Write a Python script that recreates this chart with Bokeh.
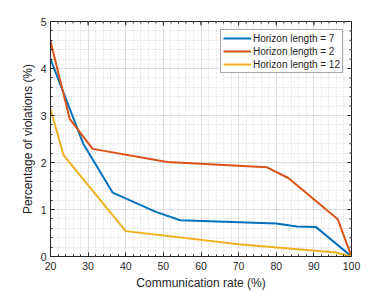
import math
from bokeh.plotting import figure
from bokeh.models import Range1d, FixedTicker
from bokeh.embed import file_html
from bokeh.resources import INLINE

# Data
rate_h7 = [20, 28.7, 36.5, 48, 54.5, 80, 85.5, 90.5, 100]
viol_h7 = [4.2, 2.4, 1.36, 0.95, 0.77, 0.70, 0.64, 0.63, 0.0]

rate_h2 = [20, 25.1, 31.2, 51, 77.4, 83.2, 96.3, 100]
viol_h2 = [4.58, 2.93, 2.29, 2.01, 1.90, 1.67, 0.80, 0.0]

rate_h12 = [20, 23.5, 40, 70, 95.8, 100]
viol_h12 = [3.14, 2.15, 0.54, 0.26, 0.085, 0.0]

labels = ["Horizon length = 7", "Horizon length = 2", "Horizon length = 12"]
colors = ["#0072BD", "#D95319", "#EDB120"]

x_ticks = [20, 30, 40, 50, 60, 70, 80, 90, 100]
y_ticks = [0, 1, 2, 3, 4, 5]
x_minor = [20 + 2 * i for i in range(41)]
y_minor = [round(0.2 * i, 1) for i in range(26)]

FONT = "Liberation Sans"
AX = "#262626"

p = figure(width=388, height=291, frame_width=301, frame_height=235,
           output_backend="svg", toolbar_location=None,
           x_range=Range1d(20, 100), y_range=Range1d(0, 5),
           min_border_left=50, min_border_right=37, min_border_top=21, min_border_bottom=35)
p.outline_line_color = AX
p.outline_line_width = 1

xt = FixedTicker(ticks=x_ticks, minor_ticks=x_minor)
yt = FixedTicker(ticks=y_ticks, minor_ticks=y_minor)

for ax, t in ((p.xaxis[0], xt), (p.yaxis[0], yt)):
    ax.ticker = t
    ax.axis_line_color = AX
    ax.major_tick_line_color = AX
    ax.minor_tick_line_color = AX
    ax.major_tick_in = 4
    ax.major_tick_out = 0
    ax.minor_tick_in = 2
    ax.minor_tick_out = 0
    ax.major_label_text_font = FONT
    ax.major_label_text_font_size = "10.5px"
    ax.major_label_text_color = AX
    ax.axis_label_text_font = FONT
    ax.axis_label_text_font_size = "12px"
    ax.axis_label_text_font_style = "normal"
    ax.axis_label_text_color = AX

p.xaxis.axis_label = "Communication rate (%)"
p.yaxis.axis_label = "Percentage of violations (%)"
p.xaxis.major_label_standoff = 5
p.xaxis.axis_label_standoff = 3
p.yaxis.major_label_standoff = 4
p.yaxis.axis_label_standoff = 3

for g in (p.xgrid[0], p.ygrid[0]):
    g.grid_line_color = "#dedede"
    g.grid_line_width = 1
    g.minor_grid_line_color = "#d4d4d4"
    g.minor_grid_line_dash = "1 2"
    g.minor_grid_line_width = 1

# box ticks on top and right edges (inward), like a boxed axes
p.ray(x=x_ticks, y=[5] * len(x_ticks), length=4, angle=-math.pi / 2,
      length_units="screen", line_color=AX, line_width=1)
p.ray(x=x_minor, y=[5] * len(x_minor), length=2, angle=-math.pi / 2,
      length_units="screen", line_color=AX, line_width=1)
p.ray(x=[100] * len(y_ticks), y=y_ticks, length=4, angle=math.pi,
      length_units="screen", line_color=AX, line_width=1)
p.ray(x=[100] * len(y_minor), y=y_minor, length=2, angle=math.pi,
      length_units="screen", line_color=AX, line_width=1)

for xs, ys, lab, col in ((rate_h7, viol_h7, labels[0], colors[0]),
                         (rate_h2, viol_h2, labels[1], colors[1]),
                         (rate_h12, viol_h12, labels[2], colors[2])):
    p.line(xs, ys, line_color=col, line_width=2, legend_label=lab)

lg = p.legend[0]
lg.location = "top_right"
lg.margin = 8
lg.padding = 2
lg.spacing = 1
lg.glyph_width = 28
lg.glyph_height = 12
lg.label_height = 12
lg.label_standoff = 2
lg.label_text_font = FONT
lg.label_text_font_size = "10px"
lg.label_text_color = AX
lg.border_line_color = "#555555"
lg.border_line_width = 1
lg.background_fill_color = "white"
lg.background_fill_alpha = 1

open("out.html", "w").write(file_html(p, INLINE))
